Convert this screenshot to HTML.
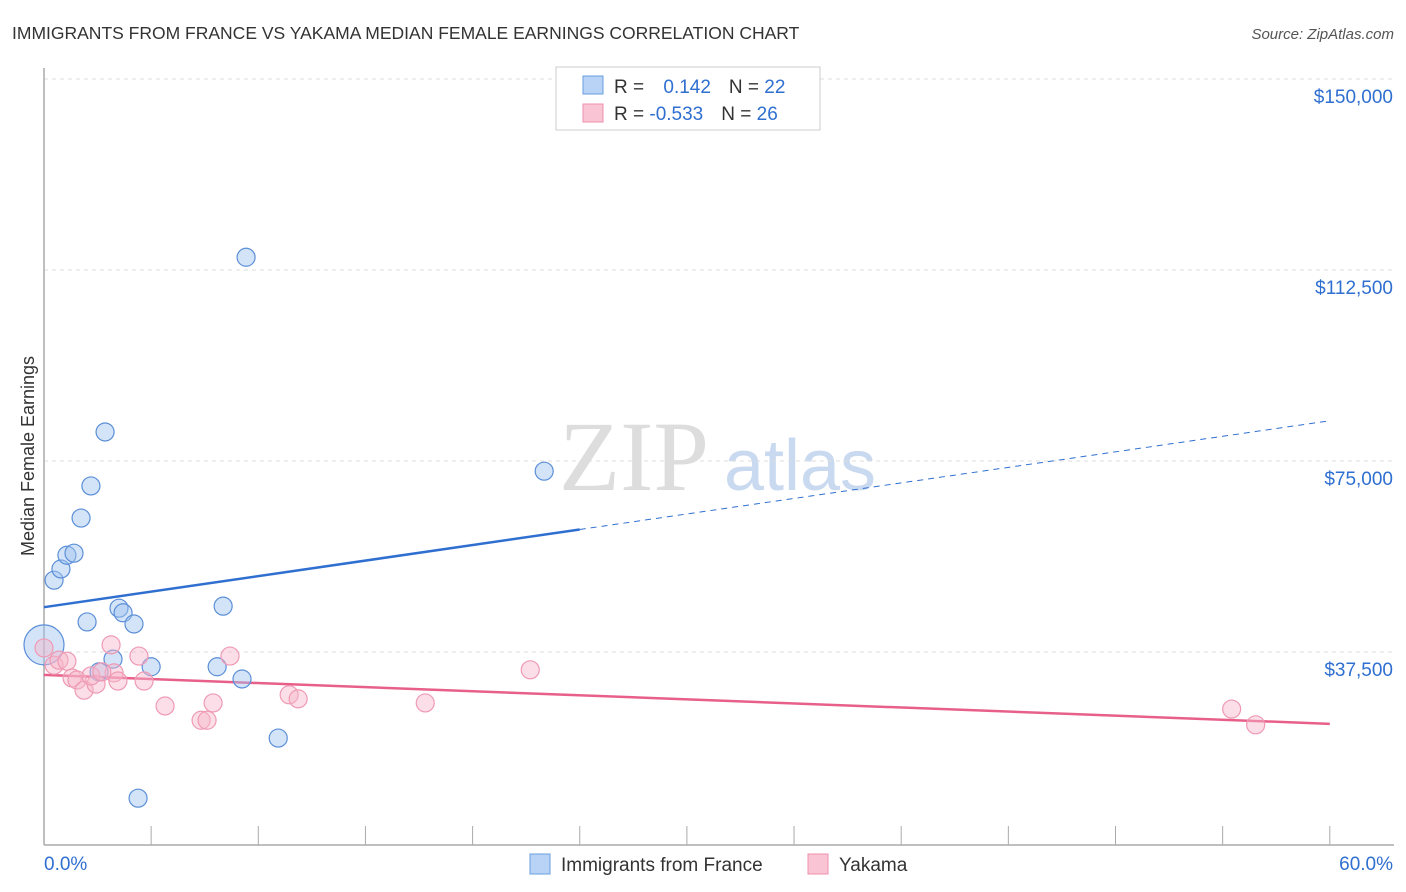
<!DOCTYPE html>
<html><head><meta charset="utf-8"><style>
body{margin:0;background:#fff;font-family:"Liberation Sans",sans-serif;}
#wrap{position:relative;width:1406px;height:892px;overflow:hidden}
</style></head><body>
<div id="wrap">
<svg id="svg" width="1406" height="892">
<text x="12" y="39" font-size="17.5" fill="#333">IMMIGRANTS FROM FRANCE VS YAKAMA MEDIAN FEMALE EARNINGS CORRELATION CHART</text>
<text x="1394" y="39" font-size="15" fill="#555" font-style="italic" text-anchor="end">Source: ZipAtlas.com</text>
<text x="634" y="490" font-size="100" fill="#ddd" font-family="Liberation Serif" text-anchor="middle">ZIP</text>
<text x="800" y="490" font-size="72" fill="#c9d9f0" text-anchor="middle">atlas</text>
<text transform="translate(34,456) rotate(-90)" font-size="18" fill="#333" text-anchor="middle">Median Female Earnings</text>
<g id="grid"></g><g id="axes"></g><g id="lines"></g><g id="pts"></g>
<rect x="556" y="67" width="264" height="63" fill="#fff" stroke="#ccc"/>
<rect x="583" y="76" width="20" height="18" fill="#b8d3f5" stroke="#6a9ee0"/>
<rect x="583" y="104" width="20" height="18" fill="#f9c5d4" stroke="#ee8fab"/>
<text x="614" y="93" font-size="19" fill="#333">R = <tspan fill="#2f6fd0" dx="14">0.142</tspan><tspan fill="#333" dx="18">N = </tspan><tspan fill="#2f6fd0">22</tspan></text>
<text x="614" y="120" font-size="19" fill="#333">R = <tspan fill="#2f6fd0">-0.533</tspan><tspan fill="#333" dx="18">N = </tspan><tspan fill="#2f6fd0">26</tspan></text>
<rect x="530" y="854" width="20" height="20" fill="#b8d3f5" stroke="#6a9ee0"/>
<text x="561" y="871" font-size="19" fill="#333">Immigrants from France</text>
<rect x="808" y="854" width="20" height="20" fill="#f9c5d4" stroke="#ee8fab"/>
<text x="839" y="871" font-size="19" fill="#333">Yakama</text>
</svg></div>
<script>
const yTicks=[37500,75000,112500,150000];
const yTickLabels=["$37,500","$75,000","$112,500","$150,000"];
const xTicks=[0,5,10,15,20,25,30,35,40,45,50,55,60];
const franceX=[0,0.47,0.79,1.07,1.40,1.73,2.19,2.85,2.01,3.50,3.69,4.20,3.22,2.57,5.00,8.08,8.36,9.24,9.43,10.93,4.39,23.34];
const franceY=[38900,51600,53800,56500,56900,63800,70100,80700,43400,46100,45200,43000,36100,33600,34600,34600,46500,32200,115000,20600,8800,73000];
const yakamaX=[0,0.47,0.7,1.07,1.31,1.54,1.87,2.43,2.19,3.13,3.27,3.45,4.43,4.67,5.65,7.33,7.61,7.89,8.68,11.44,11.86,17.79,22.69,55.42,56.54,2.7];
const yakamaY=[38300,34900,35900,35700,32400,32000,30000,31200,32800,38900,33400,31800,36700,31800,26900,24100,24100,27500,36700,29100,28300,27500,34000,26300,23200,33600];
const franceTrend=[46300,82900];
const yakamaTrend=[33000,23400];
const franceSolidEnd=25;
const X=v=>44+v*21.43, Y=v=>843-v/37500*191;
const NS="http://www.w3.org/2000/svg";
function mk(p,t,a){const e=document.createElementNS(NS,t);for(const k in a)e.setAttribute(k,a[k]);document.getElementById(p).appendChild(e);return e;}
yTicks.forEach((t,i)=>{
 const l=mk('grid','line',{x1:44,x2:1394,y1:Y(t),y2:Y(t),stroke:'#ddd','stroke-dasharray':'4,4'});
 
 
 const tx=mk('grid','text',{x:1393,y:Y(t)+24,'font-size':19,fill:'#2f6fd0','text-anchor':'end'});
 tx.textContent=yTickLabels[i];
 
 
});
let a=mk('axes','line',{x1:44,x2:44,y1:68,y2:845,stroke:'#aaa','stroke-width':1.5});


a=mk('axes','line',{x1:44,x2:1394,y1:845,y2:845,stroke:'#aaa','stroke-width':1.5});


xTicks.forEach(t=>{if(t===0)return;const l=mk('axes','line',{x1:X(t),x2:X(t),y1:826,y2:845,stroke:'#aaa'});
 
 });
let t0=mk('axes','text',{x:44,y:870,'font-size':19,fill:'#2f6fd0'});t0.textContent='0.0%';


let t1=mk('axes','text',{x:1393,y:870,'font-size':19,fill:'#2f6fd0','text-anchor':'end'});t1.textContent='60.0%';


const fy=x=>franceTrend[0]+(franceTrend[1]-franceTrend[0])*x/60;
let l=mk('lines','line',{x1:X(0),y1:Y(fy(0)),x2:X(franceSolidEnd),y2:Y(fy(franceSolidEnd)),stroke:'#2f6fd0','stroke-width':2.5});


l=mk('lines','line',{x1:X(franceSolidEnd),y1:Y(fy(franceSolidEnd)),x2:X(60),y2:Y(fy(60)),stroke:'#2f6fd0','stroke-width':1,'stroke-dasharray':'6,5'});


l=mk('lines','line',{x1:X(0),y1:Y(yakamaTrend[0]),x2:X(60),y2:Y(yakamaTrend[1]),stroke:'#e8608a','stroke-width':2.5});


franceX.forEach((x,i)=>{const c=mk('pts','circle',{cx:X(x),cy:Y(franceY[i]),r:i===0?20:9,fill:'rgba(160,196,240,0.45)',stroke:'#5b8fd8','stroke-width':1.2});
 
 });
yakamaX.forEach((x,i)=>{const c=mk('pts','circle',{cx:X(x),cy:Y(yakamaY[i]),r:9,fill:'rgba(247,182,202,0.45)',stroke:'#ef9ab4','stroke-width':1.2});
 
 });
</script>
</body></html>
